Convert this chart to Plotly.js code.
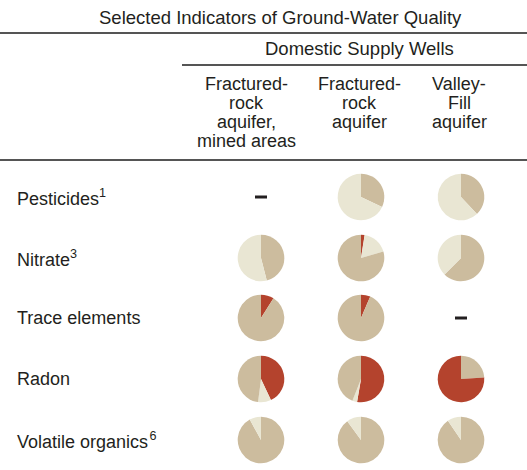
<!DOCTYPE html>
<html><head><meta charset="utf-8">
<script src="https://cdn.plot.ly/plotly-3.0.1.min.js"></script>
<style>html,body{margin:0;padding:0;background:#fff}</style>
</head><body><div id="chart" style="width:527px;height:470px"></div>
<script>
// ---- data ----
const chartTitle = "Selected Indicators of Ground-Water Quality";
const groupTitle = "Domestic Supply Wells";
const columnHeaders = [
  ["Fractured-", "rock", "aquifer,", "mined areas"],
  ["Fractured-", "rock", "aquifer"],
  ["Valley-", "Fill", "aquifer"]
];
const indicators = ["Pesticides<sup>1</sup>", "Nitrate<sup>3</sup>", "Trace elements", "Radon", "Volatile organics&#8202;<sup>6</sup>"];
const categories = ["Greater than benchmark", "Detected, less than benchmark", "Not detected"];
const categoryColors = ["#b4432d", "#ccbc9e", "#e9e6d3"];
// values per cell: [greater than benchmark, detected less than benchmark, not detected] in percent; null = no data
const pesticides       = [null, [0, 32, 68], [0, 38, 62]];
const nitrate          = [[0, 46, 54], [2.5, 79.5, 18], [0, 62.5, 37.5]];
const traceElements    = [[9, 91, 0], [6.5, 93.5, 0], null];
const radon            = [[43, 48, 9], [52.7, 44, 3.3], [76, 24, 0]];
const volatileOrganics = [[0, 92, 8], [0, 90, 10], [0, 90.5, 9.5]];
// clockwise slice order from 12 o'clock (indices into categories)
const pesticidesOrder       = [null, [1, 2], [1, 2]];
const nitrateOrder          = [[1, 2], [0, 2, 1], [1, 2]];
const traceElementsOrder    = [[0, 1], [0, 1], null];
const radonOrder            = [[0, 2, 1], [0, 2, 1], [1, 0]];
const volatileOrganicsOrder = [[1, 2], [1, 2], [1, 2]];

// ---- layout ----
const W = 527, H = 470;
const colX = [261, 361, 461];
const rowY = [197, 258, 318, 379, 440];
const headerX = [246, 359, 459];
const headerY = [84, 103, 122, 141];
const R = 23.3;
const font = {family: "Liberation Sans, Arial, Helvetica, sans-serif", size: 18, color: "#231f20"};
const titleFont = Object.assign({}, font, {size: 18.5});
const px = x => x / W, py = y => 1 - y / H;

const rowsData = [pesticides, nitrate, traceElements, radon, volatileOrganics];
const rowsOrder = [pesticidesOrder, nitrateOrder, traceElementsOrder, radonOrder, volatileOrganicsOrder];

const traces = [];
const shapes = [
  {type: "line", xref: "paper", yref: "paper", x0: 0, x1: 1, y0: py(33), y1: py(33), line: {color: "#555", width: 2}},
  {type: "line", xref: "paper", yref: "paper", x0: px(182), x1: 1, y0: py(65), y1: py(65), line: {color: "#555", width: 2}},
  {type: "line", xref: "paper", yref: "paper", x0: 0, x1: 1, y0: py(160), y1: py(160), line: {color: "#555", width: 2}}
];
const annotations = [];

rowsData.forEach((row, i) => {
  row.forEach((vals, j) => {
    const cx = colX[j], cy = rowY[i];
    if (vals === null) {
      shapes.push({type: "rect", xref: "paper", yref: "paper",
        x0: px(cx - 6), x1: px(cx + 6), y0: py(cy + 1.5), y1: py(cy - 1.5),
        fillcolor: "#231f20", line: {width: 0}});
      return;
    }
    const order = rowsOrder[i][j];
    traces.push({
      type: "pie", sort: false, direction: "clockwise", rotation: 0,
      labels: order.map(k => categories[k]),
      values: order.map(k => vals[k]),
      marker: {colors: order.map(k => categoryColors[k]), line: {width: 0}},
      textinfo: "none", hoverinfo: "label+percent", showlegend: false,
      domain: {x: [px(cx - R), px(cx + R)], y: [py(cy + R), py(cy - R)]}
    });
  });
  annotations.push({xref: "paper", yref: "paper", x: px(15), y: py(rowY[i]), xanchor: "left", yanchor: "middle",
    text: indicators[i], showarrow: false, font: font});
});

annotations.push({xref: "paper", yref: "paper", x: px(280), y: py(17), xanchor: "center", yanchor: "middle",
  text: chartTitle, showarrow: false, font: titleFont});
annotations.push({xref: "paper", yref: "paper", x: px(359), y: py(48), xanchor: "center", yanchor: "middle",
  text: groupTitle, showarrow: false, font: titleFont});
columnHeaders.forEach((lines, j) => {
  lines.forEach((t, k) => {
    annotations.push({xref: "paper", yref: "paper", x: px(headerX[j]), y: py(headerY[k]), xanchor: "center", yanchor: "middle",
      text: t, showarrow: false, font: font});
  });
});

Plotly.newPlot("chart", traces, {
  width: W, height: H, margin: {l: 0, r: 0, t: 0, b: 0},
  paper_bgcolor: "#fff", plot_bgcolor: "#fff",
  shapes: shapes, annotations: annotations, font: font
}, {displayModeBar: false});
</script></body></html>
